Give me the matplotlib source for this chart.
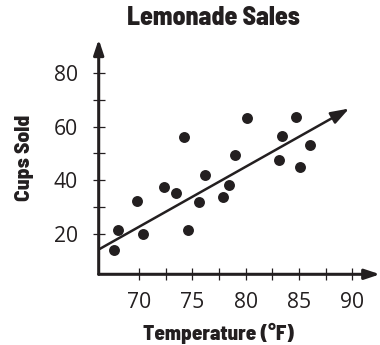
import matplotlib
matplotlib.use("Agg")
import matplotlib.pyplot as plt
from matplotlib.ticker import FixedLocator

# Lemonade stand: daily high temperature vs. cups sold
temperature = [67.6, 68.0, 69.8, 70.4, 72.3, 73.5, 74.2, 74.6, 75.6, 76.2,
               77.9, 78.4, 79.0, 80.1, 83.1, 83.4, 84.7, 85.1, 86.0]
cups_sold = [14.0, 21.4, 32.1, 19.8, 37.5, 35.1, 56.0, 21.4, 31.8, 41.8,
             33.8, 38.3, 49.3, 63.4, 47.6, 56.6, 63.6, 44.8, 53.1]

# Line of best fit (start, arrow tip)
trend_x = [66.3, 89.7]
trend_y = [14.3, 66.8]

x_major = [70, 75, 80, 85, 90]
x_minor = [72.5, 77.5, 82.5, 87.5]
y_major = [20, 40, 60, 80]
y_minor = [30, 50, 70]

title = "Lemonade Sales"
xlabel = "Temperature (°F)"
ylabel = "Cups Sold"

INK = "#231f20"
W, H = 380, 345

fig = plt.figure(figsize=(W / 100, H / 100), dpi=100)
fig.patch.set_facecolor("white")

left, right = 98.7, 380.0
bottom, top = 274.3, 39.3
ax = fig.add_axes([left / W, 1 - bottom / H, (right - left) / W, (bottom - top) / H])
ax.set_xlim(66.2, 92.6)
ax.set_ylim(4.8, 92.7)
ax.set_facecolor("none")

for s in ax.spines.values():
    s.set_visible(False)

# Axis lines with arrowheads
axis_arrow = dict(arrowstyle="-|>,head_length=0.9,head_width=0.3",
                  color=INK, lw=2.2, shrinkA=0, shrinkB=0, mutation_scale=10)
ax.annotate("", xy=(1, 0), xytext=(0, 0), xycoords="axes fraction",
            textcoords="axes fraction", arrowprops=axis_arrow, annotation_clip=False)
ax.annotate("", xy=(0, 1), xytext=(0, 0), xycoords="axes fraction",
            textcoords="axes fraction", arrowprops=axis_arrow, annotation_clip=False)

# Ticks
ax.xaxis.set_major_locator(FixedLocator(x_major))
ax.xaxis.set_minor_locator(FixedLocator(x_minor))
ax.yaxis.set_major_locator(FixedLocator(y_major))
ax.yaxis.set_minor_locator(FixedLocator(y_minor))
ax.tick_params(which="both", direction="inout", length=8.5, width=0.9, color=INK)
ax.tick_params(axis="x", which="major", pad=8.5)
ax.tick_params(axis="y", which="major", pad=10.5)
tick_font = dict(family=["Open Sans", "DejaVu Sans"], size=15.2)
ax.set_xticklabels([str(v) for v in x_major], **tick_font, color=INK)
ax.set_yticklabels([str(v) for v in y_major], **tick_font, color=INK)

# Points
ax.scatter(temperature, cups_sold, s=62, color=INK, zorder=3, linewidths=0, clip_on=False)

# Trend line with arrow
ax.annotate("", xy=(trend_x[1], trend_y[1]), xytext=(trend_x[0], trend_y[0]),
            arrowprops=dict(arrowstyle="-|>,head_length=1.1,head_width=0.38",
                            color=INK, lw=1.8, shrinkA=0, shrinkB=0, mutation_scale=10),
            annotation_clip=False)

label_font = ["Barlow Semi Condensed", "Barlow Condensed", "DejaVu Sans"]
fig.text(213 / W, 1 - 18 / H, title, ha="center", va="center",
         family=label_font, weight=800, size=18.5, color=INK)
fig.text(218.5 / W, 1 - 333 / H, xlabel, ha="center", va="center",
         family=label_font, weight=800, size=15.2, color=INK)
fig.text(25 / W, 1 - 157.5 / H, ylabel, ha="center", va="center", rotation=90,
         family=label_font, weight=800, size=15.5, color=INK)

fig.savefig("out.png", dpi=100, facecolor="white")
